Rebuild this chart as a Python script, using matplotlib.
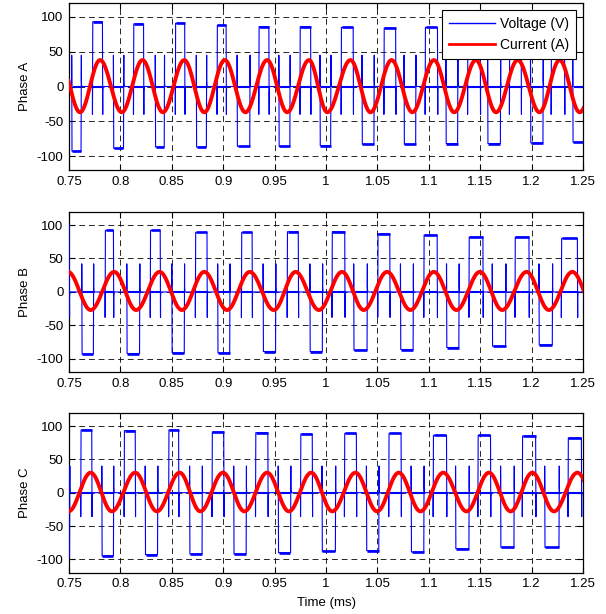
import numpy as np
import matplotlib
matplotlib.use('Agg')
from matplotlib import pyplot as plt

plt.rcParams['font.family'] = ['Liberation Sans', 'DejaVu Sans']
plt.rcParams['font.size'] = 9.5
plt.rcParams['axes.unicode_minus'] = False

# time axis (ms)
x_ticks = [0.75, 0.8, 0.85, 0.9, 0.95, 1.0, 1.05, 1.1, 1.15, 1.2, 1.25]
x_ticklabels = ['0.75', '0.8', '0.85', '0.9', '0.95', '1', '1.05', '1.1', '1.15', '1.2', '1.25']
y_ticks = [-100, -50, 0, 50, 100]
phase_names = ['Phase A', 'Phase B', 'Phase C']

# phase A voltage pulses: start, end (ms) and level (V)
va_pos_start = [0.7728, 0.8127, 0.8534, 0.8940, 0.9346, 0.9746, 1.0147, 1.0563, 1.0964, 1.1377, 1.1784, 1.2190]
va_pos_end = [0.7825, 0.8225, 0.8625, 0.9028, 0.9444, 0.9850, 1.0264, 1.0677, 1.1084, 1.1500, 1.1898, 1.2320]
va_pos_level = [93, 90, 91, 88, 86, 86, 85, 84, 85, 83, 82, 80]
va_neg_start = [0.7526, 0.7932, 0.8339, 0.8738, 0.9135, 0.9541, 0.9941, 1.0350, 1.0759, 1.1166, 1.1572, 1.1989, 1.2400]
va_neg_end = [0.7617, 0.8030, 0.8426, 0.8836, 0.9258, 0.9648, 1.0045, 1.0466, 1.0872, 1.1280, 1.1696, 1.2110, 1.2560]
va_neg_level = [-93, -89, -87, -87, -86, -86, -85, -83, -83, -82, -82, -81, -80]

# phase B voltage pulses
vb_pos_start = [0.7410, 0.7851, 0.8290, 0.8729, 0.9177, 0.9622, 1.0058, 1.0503, 1.0951, 1.1390, 1.1838, 1.2289]
vb_pos_end = [0.7502, 0.7932, 0.8387, 0.8842, 0.9281, 0.9730, 1.0182, 1.0620, 1.1081, 1.1526, 1.1974, 1.2445]
vb_pos_level = [100, 92, 92, 89, 89, 90, 90, 87, 85, 82, 82, 80]
vb_neg_start = [0.7624, 0.8062, 0.8500, 0.8946, 0.9388, 0.9843, 1.0269, 1.0724, 1.1172, 1.1617, 1.2071]
vb_neg_end = [0.7737, 0.8186, 0.8621, 0.9063, 0.9509, 0.9964, 1.0399, 1.0847, 1.1292, 1.1747, 1.2201]
vb_neg_level = [-93, -92, -91, -91, -89, -89, -87, -86, -83, -81, -79]

# phase C voltage pulses
vc_pos_start = [0.7614, 0.8036, 0.8469, 0.8891, 0.9314, 0.9752, 1.0179, 1.0610, 1.1042, 1.1477, 1.1909, 1.2354]
vc_pos_end = [0.7721, 0.8144, 0.8566, 0.9005, 0.9434, 0.9866, 1.0295, 1.0730, 1.1172, 1.1600, 1.2039, 1.2484]
vc_pos_level = [94, 93, 94, 91, 90, 88, 89, 89, 86, 86, 85, 82]
vc_neg_start = [0.7380, 0.7819, 0.8241, 0.8673, 0.9102, 0.9535, 0.9961, 1.0393, 1.0828, 1.1260, 1.1698, 1.2127]
vc_neg_end = [0.7505, 0.7932, 0.8361, 0.8794, 0.9223, 0.9655, 1.0091, 1.0513, 1.0951, 1.1390, 1.1828, 1.2266]
vc_neg_level = [-95, -95, -93, -92, -92, -90, -88, -87, -89, -84, -82, -82]

# switching overshoot heights (V): after a pulse the voltage rings to the other side
spike_up = [45, 42, 40]
spike_down = [-40, -38, -36]

# phase currents: times of the peaks and troughs (ms), and their values (A)
ia_peak_t = [0.7410, 0.7802, 0.8215, 0.8621, 0.9015, 0.9427, 0.9834, 1.0238, 1.0638, 1.1050, 1.1458, 1.1865, 1.2272, 1.2670]
ia_trough_t = [0.7607, 0.8013, 0.8413, 0.8816, 0.9216, 0.9622, 1.0012, 1.0433, 1.0840, 1.1247, 1.1654, 1.2077, 1.2468]
ib_peak_t = [0.7490, 0.7939, 0.8381, 0.8816, 0.9258, 0.9704, 1.0156, 1.0594, 1.1049, 1.1497, 1.1951, 1.2396]
ib_trough_t = [0.7711, 0.8153, 0.8598, 0.9037, 0.9492, 0.9931, 1.0367, 1.0821, 1.1269, 1.1714, 1.2169, 1.2620]
ic_peak_t = [0.7711, 0.8144, 0.8576, 0.8998, 0.9427, 0.9856, 1.0286, 1.0708, 1.1140, 1.1585, 1.2007, 1.2445]
ic_trough_t = [0.7496, 0.7916, 0.8355, 0.8777, 0.9206, 0.9639, 1.0061, 1.0497, 1.0919, 1.1367, 1.1796, 1.2218, 1.2660]
i_peak = [38, 30, 30]
i_trough = [-37, -27, -28]


def voltage_trace(pos_s, pos_e, pos_l, neg_s, neg_e, neg_l, up, down):
    pulses = sorted(list(zip(pos_s, pos_e, pos_l)) + list(zip(neg_s, neg_e, neg_l)))
    t = [0.70]
    v = [0.0]
    d = 0.0003
    for s, e, lev in pulses:
        ring = down if lev > 0 else up
        t += [s, s, s + d, e, e + d, e + d, e + 2 * d]
        v += [0.0, ring, lev, lev, ring, ring * 0.2, 0.0]
    t.append(1.30)
    v.append(0.0)
    return np.array(t), np.array(v), pulses


def current_trace(peak_t, trough_t, pk, tr):
    ext = sorted([(p, pk) for p in peak_t] + [(q, tr) for q in trough_t])
    ts, vs = [], []
    for (t0, v0), (t1, v1) in zip(ext[:-1], ext[1:]):
        tt = np.linspace(t0, t1, 40)
        ts.append(tt)
        vs.append((v0 + v1) / 2 + (v0 - v1) / 2 * np.cos(np.pi * (tt - t0) / (t1 - t0)))
    return np.concatenate(ts), np.concatenate(vs)


volt_data = [
    (va_pos_start, va_pos_end, va_pos_level, va_neg_start, va_neg_end, va_neg_level),
    (vb_pos_start, vb_pos_end, vb_pos_level, vb_neg_start, vb_neg_end, vb_neg_level),
    (vc_pos_start, vc_pos_end, vc_pos_level, vc_neg_start, vc_neg_end, vc_neg_level),
]
curr_data = [(ia_peak_t, ia_trough_t), (ib_peak_t, ib_trough_t), (ic_peak_t, ic_trough_t)]

fig = plt.figure(figsize=(6.06, 6.14), dpi=100)
boxes = [[0.1139, 0.7231, 0.8482, 0.2720],
         [0.1139, 0.3937, 0.8482, 0.2616],
         [0.1139, 0.0673, 0.8482, 0.2606]]

blue = (0, 0, 1)
for k in range(3):
    ax = fig.add_axes(boxes[k])
    tv, vv, pulses = voltage_trace(*volt_data[k], spike_up[k], spike_down[k])
    ax.plot(tv, vv, color=blue, lw=0.8, label='Voltage (V)', zorder=3)
    # slightly heavier strokes along the flat parts, like the noisy measured trace
    for s, e, lev in pulses:
        ax.plot([s + 0.0004, e - 0.0001], [lev, lev], color=blue, lw=1.9, zorder=3,
                solid_capstyle='butt')
    edges = [0.70] + [x for s, e, lev in pulses for x in (s, e)] + [1.30]
    for a, b in zip(edges[1::2], edges[2::2]):
        ax.plot([a + 0.0008, b - 0.0002], [0, 0], color=blue, lw=1.5, zorder=3,
                solid_capstyle='butt')

    ti, vi = current_trace(*curr_data[k], i_peak[k], i_trough[k])
    ax.plot(ti, vi, color=(1, 0, 0), lw=2.8, label='Current (A)', zorder=4)

    ax.set_xlim(0.75, 1.25)
    ax.set_ylim(-120, 120)
    ax.set_xticks(x_ticks)
    ax.set_xticklabels(x_ticklabels)
    ax.set_yticks(y_ticks)
    ax.tick_params(direction='in', length=4, width=0.8, top=True, right=True,
                   labelsize=9.5, pad=4, colors='k')
    ax.grid(True, color='k', linestyle=(0, (6, 4)), linewidth=0.7, alpha=0.85)
    for sp in ax.spines.values():
        sp.set_linewidth(0.9)
    ax.set_ylabel(phase_names[k], fontsize=9.5, labelpad=4)

    if k == 0:
        leg = ax.legend(loc='upper right', fontsize=10, frameon=True, fancybox=False,
                        borderaxespad=0.5, handlelength=3.3, handletextpad=0.35,
                        framealpha=1, borderpad=0.5, labelspacing=0.5)
        leg.get_frame().set_edgecolor('k')
        leg.get_frame().set_linewidth(0.8)
        leg.get_lines()[0].set_linewidth(1.0)
        leg.get_lines()[1].set_linewidth(2.0)
    if k == 2:
        ax.set_xlabel('Time (ms)', fontsize=9.5, labelpad=5)

fig.savefig('out.png', dpi=100)
